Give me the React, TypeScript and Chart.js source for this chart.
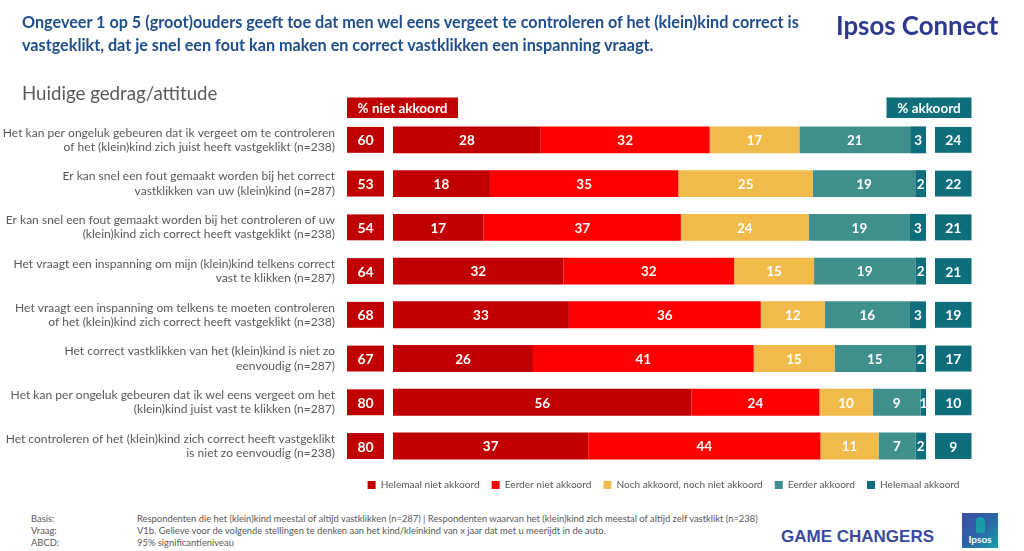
import React, { useEffect, useRef } from "react";
import { Chart, registerables } from "chart.js";

Chart.register(...registerables);

const statements: string[][] = [
  ["Het kan per ongeluk gebeuren dat ik vergeet om te controleren", "of het (klein)kind zich juist heeft vastgeklikt (n=238)"],
  ["Er kan snel een fout gemaakt worden bij het correct", "vastklikken van uw (klein)kind (n=287)"],
  ["Er kan snel een fout gemaakt worden bij het controleren of uw", "(klein)kind zich correct heeft vastgeklikt (n=238)"],
  ["Het vraagt een inspanning om mijn (klein)kind telkens correct", "vast te klikken (n=287)"],
  ["Het vraagt een inspanning om telkens te moeten controleren", "of het (klein)kind zich correct heeft vastgeklikt (n=238)"],
  ["Het correct vastklikken van het (klein)kind is niet zo", "eenvoudig (n=287)"],
  ["Het kan per ongeluk gebeuren dat ik wel eens vergeet om het", "(klein)kind juist vast te klikken (n=287)"],
  ["Het controleren of het (klein)kind zich correct heeft vastgeklikt", "is niet zo eenvoudig (n=238)"],
];

const helemaalNietAkkoord = [28, 18, 17, 32, 33, 26, 56, 37];
const eerderNietAkkoord = [32, 35, 37, 32, 36, 41, 24, 44];
const neutraal = [17, 25, 24, 15, 12, 15, 10, 11];
const eerderAkkoord = [21, 19, 19, 19, 16, 15, 9, 7];
const helemaalAkkoord = [3, 2, 3, 2, 3, 2, 1, 2];

const totaalNietAkkoord = [60, 53, 54, 64, 68, 67, 80, 80];
const totaalAkkoord = [24, 22, 21, 21, 19, 17, 10, 9];

const seriesNames = [
  "Helemaal niet akkoord",
  "Eerder niet akkoord",
  "Noch akkoord, noch niet akkoord",
  "Eerder akkoord",
  "Helemaal akkoord",
];
const seriesColors = ["#C00000", "#FF0000", "#F0BB4B", "#3F8F8D", "#0F6E7B"];
const rawSeries = [helemaalNietAkkoord, eerderNietAkkoord, neutraal, eerderAkkoord, helemaalAkkoord];

const headerLeft = "% niet akkoord";
const headerRight = "% akkoord";

const FONT = "Lato, 'Open Sans', sans-serif";

const valueLabels = {
  id: "valueLabels",
  afterDatasetsDraw(chart: any) {
    const ctx = chart.ctx;
    ctx.save();
    ctx.font = `bold 13.5px ${FONT}`;
    ctx.fillStyle = "#ffffff";
    ctx.textAlign = "center";
    ctx.textBaseline = "middle";
    chart.data.datasets.forEach((_ds: any, di: number) => {
      const meta = chart.getDatasetMeta(di);
      meta.data.forEach((bar: any, i: number) => {
        const p = bar.getProps(["x", "y", "base"], true);
        ctx.fillText(String(rawSeries[di][i]), (p.x + p.base) / 2, p.y + 1);
      });
    });
    ctx.restore();
  },
};

const sideBoxes = {
  id: "sideBoxes",
  afterDatasetsDraw(chart: any) {
    const { ctx, chartArea } = chart;
    const meta = chart.getDatasetMeta(0);
    ctx.save();
    ctx.textAlign = "center";
    ctx.textBaseline = "middle";
    const hh = 20.5;
    const hy = chartArea.top - hh;
    ctx.fillStyle = seriesColors[0];
    ctx.fillRect(chartArea.left - 46, hy, 111, hh);
    ctx.fillStyle = seriesColors[4];
    ctx.fillRect(chartArea.right + 45.5 - 85, hy, 85, hh);
    ctx.fillStyle = "#fff";
    ctx.font = `bold 13.5px ${FONT}`;
    ctx.fillText(headerLeft, chartArea.left - 46 + 55.5, hy + hh / 2 + 0.5);
    ctx.fillText(headerRight, chartArea.right + 45.5 - 42.5, hy + hh / 2 + 0.5);
    ctx.font = `bold 14px ${FONT}`;
    meta.data.forEach((bar: any, i: number) => {
      const p = bar.getProps(["y", "height"], true);
      const h = p.height - 1;
      const top = p.y - h / 2;
      ctx.fillStyle = seriesColors[0];
      ctx.fillRect(chartArea.left - 46, top, 37, h);
      ctx.fillStyle = seriesColors[4];
      ctx.fillRect(chartArea.right + 9, top, 36.5, h);
      ctx.fillStyle = "#fff";
      ctx.fillText(String(totaalNietAkkoord[i]), chartArea.left - 46 + 18.5, p.y + 1);
      ctx.fillText(String(totaalAkkoord[i]), chartArea.right + 9 + 18.25, p.y + 1);
    });
    ctx.restore();
  },
};

export default function App() {
  const canvasRef = useRef<HTMLCanvasElement | null>(null);

  useEffect(() => {
    if (!canvasRef.current) return;
    const rowSums = statements.map((_, i) => rawSeries.reduce((s, arr) => s + arr[i], 0));
    const chart = new Chart(canvasRef.current, {
      type: "bar",
      data: {
        labels: statements,
        datasets: rawSeries.map((arr, di) => ({
          label: seriesNames[di],
          data: arr.map((v, i) => (v / rowSums[i]) * 100),
          backgroundColor: seriesColors[di],
          borderWidth: 0,
          barPercentage: 0.615,
          categoryPercentage: 1,
        })),
      },
      options: {
        indexAxis: "y",
        responsive: false,
        animation: false,
        layout: { padding: { left: 0, right: 52.5, top: 118, bottom: 0 } },
        scales: {
          x: { stacked: true, min: 0, max: 100, display: false },
          y: {
            stacked: true,
            grid: { display: false, drawTicks: false },
            border: { display: false },
            ticks: {
              padding: 58,
              color: "#595959",
              font: { family: FONT, size: 12.05, lineHeight: 1.19 },
            },
            afterFit(scale: any) {
              scale.width = 393;
              scale.paddingTop = 0;
              scale.paddingBottom = 0;
            },
          },
          yRight: {
            type: "category",
            position: "right",
            grid: { display: false, drawTicks: false },
            border: { display: false },
            ticks: { display: false },
            afterFit(scale: any) {
              scale.width = 45.5;
              scale.paddingTop = 0;
              scale.paddingBottom = 0;
            },
          },
        },
        plugins: {
          legend: {
            position: "bottom",
            align: "end",
            labels: {
              boxWidth: 8,
              boxHeight: 8,
              padding: 12,
              color: "#595959",
              font: { family: FONT, size: 10.1 },
            },
          },
          tooltip: { enabled: false },
        },
      } as any,
      plugins: [valueLabels, sideBoxes],
    });
    return () => chart.destroy();
  }, []);

  const footerRow = (label: string, text: string, top: number) => (
    <>
      <div style={{ position: "absolute", left: 31, top, fontSize: 9.4, color: "#595959", fontFamily: FONT, whiteSpace: "nowrap", lineHeight: "12px" }}>{label}</div>
      <div style={{ position: "absolute", left: 137, top, fontSize: 9.4, color: "#595959", fontFamily: FONT, whiteSpace: "nowrap", lineHeight: "12px" }}>{text}</div>
    </>
  );

  return (
    <div style={{ position: "absolute", left: 0, top: 0, width: 1024, height: 551, overflow: "hidden", background: "#fff" }}>
      <canvas ref={canvasRef} width={1024} height={500} style={{ position: "absolute", left: 0, top: 0, width: 1024, height: 500 }} />
      <div style={{ position: "absolute", left: 22, top: 10, fontFamily: FONT, fontWeight: 700, fontSize: 16.2, lineHeight: "23px", color: "#1F4E8C", whiteSpace: "nowrap" }}>
        Ongeveer 1 op 5 (groot)ouders geeft toe dat men wel eens vergeet te controleren of het (klein)kind correct is
        <br />
        vastgeklikt, dat je snel een fout kan maken en correct vastklikken een inspanning vraagt.
      </div>
      <div style={{ position: "absolute", left: 836, top: 9, fontFamily: FONT, fontWeight: 700, fontSize: 25.8, lineHeight: "32px", color: "#2F3A8F", whiteSpace: "nowrap" }}>
        Ipsos Connect
      </div>
      <div style={{ position: "absolute", left: 22, top: 80, fontFamily: FONT, fontSize: 18.7, lineHeight: "26px", color: "#595959", whiteSpace: "nowrap" }}>
        Huidige gedrag/attitude
      </div>
      {footerRow("Basis:", "Respondenten die het (klein)kind meestal of altijd vastklikken (n=287) | Respondenten waarvan het (klein)kind zich meestal of altijd zelf vastklikt (n=238)", 513)}
      {footerRow("Vraag:", "V1b. Gelieve voor de volgende stellingen te denken aan het kind/kleinkind van x jaar dat met u meerijdt in de auto.", 525)}
      {footerRow("ABCD:", "95% significantieniveau", 537)}
      <div style={{ position: "absolute", left: 781, top: 526, fontFamily: "'Liberation Sans', Arial, sans-serif", fontWeight: 700, fontSize: 17, lineHeight: "22px", color: "#3B4A9E", whiteSpace: "nowrap" }}>
        GAME CHANGERS
      </div>
      <div style={{ position: "absolute", left: 962, top: 513, width: 36, height: 35, background: "linear-gradient(135deg, #3C4DA3 0%, #2E63A8 50%, #15A3A5 100%)" }}>
        <div style={{ position: "absolute", left: 14, top: 4, width: 9, height: 16, borderRadius: "5px 5px 2px 2px", background: "#1A9BA6" }} />
        <div style={{ position: "absolute", left: 0, width: 36, bottom: 3, textAlign: "center", color: "#fff", fontFamily: FONT, fontWeight: 700, fontSize: 10, lineHeight: "12px" }}>Ipsos</div>
      </div>
    </div>
  );
}
